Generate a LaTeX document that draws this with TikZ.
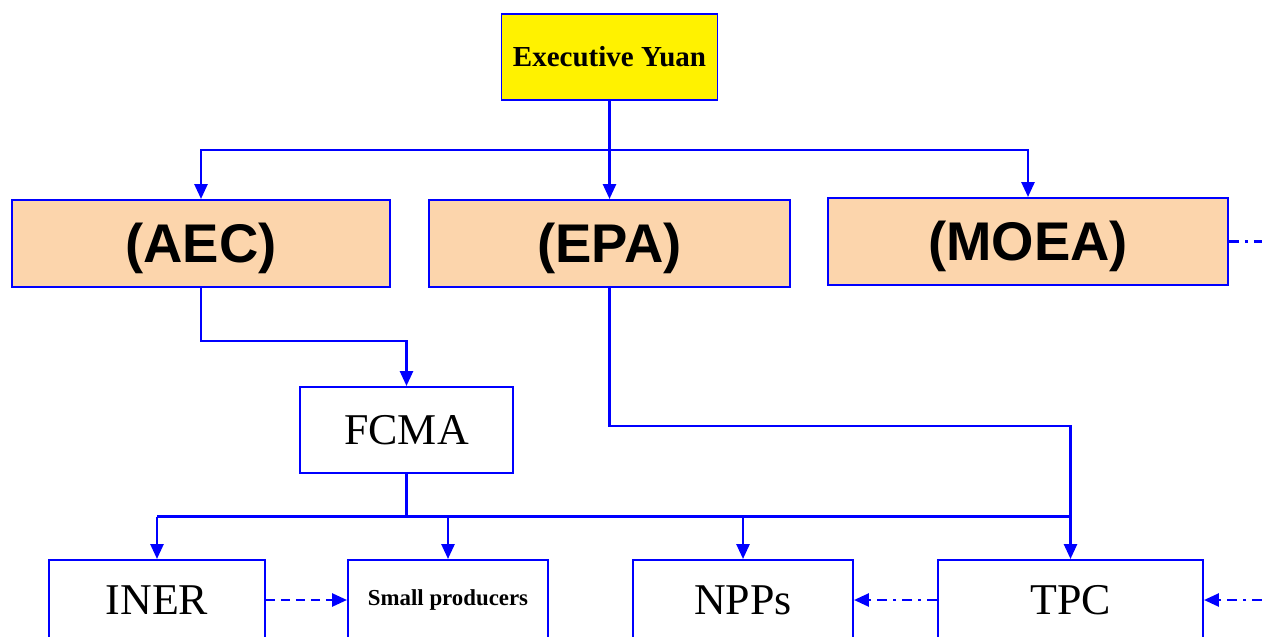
\documentclass[tikz,border=0pt]{standalone}
\usepackage{fontspec}
\setmainfont{Liberation Serif}
\newfontfamily\agencyfont{Liberation Sans}
\usetikzlibrary{arrows.meta,positioning,calc}
\definecolor{peach}{RGB}{252,213,172}
\tikzset{
    top_block/.style={
        draw=blue,
        fill=yellow,
        line width=1.1pt,
        rectangle,
        minimum height=1.72cm,
        minimum width=4.32cm,
        font=\fontsize{16.5}{19}\selectfont\bfseries
    },
    agency/.style={
        draw=blue,
        fill=peach,
        line width=1.1pt,
        rectangle,
        minimum height=1.74cm,
        text height=0.98cm,
        text depth=0.2cm,
        font=\agencyfont\fontsize{31}{36}\selectfont\bfseries
    },
    unit/.style={
        draw=blue,
        fill=white,
        line width=1.1pt,
        rectangle,
        minimum height=1.72cm,
        font=\fontsize{25}{30}\selectfont
    },
    link/.style={
        draw=blue,
        line width=1.5pt,
        -{Triangle[length=0.3cm,width=0.26cm]}
    },
    bus/.style={
        draw=blue,
        line width=1.5pt
    },
    dashline/.style={
        dash pattern=on 0.18cm off 0.12cm
    },
    dashdot/.style={
        dash pattern=on 0.2cm off 0.12cm on 0.06cm off 0.12cm
    },
}
\begin{document}
\begin{tikzpicture}
    \useasboundingbox (0,0) rectangle (25.24,-12.74);
    % blocks
    \node[top_block] (exec) at (12.19,-1.14) {Executive Yuan};
    \node[agency, minimum width=7.56cm] (aec) at (4.02,-4.87) {(AEC)};
    \node[agency, minimum width=7.22cm] (epa) at (12.19,-4.87) {(EPA)};
    \node[agency, minimum width=8cm] (moea) at (20.56,-4.83) {(MOEA)};
    \node[unit, minimum width=4.26cm] (fcma) at (8.13,-8.6) {FCMA};
    \node[unit, minimum width=4.32cm, minimum height=1.6cm] (iner) at (3.14,-12.0) {INER};
    \node[unit, minimum width=4cm, minimum height=1.6cm, font=\fontsize{13}{16}\selectfont\bfseries] (small) at (8.96,-12.0) {Small producers};
    \node[unit, minimum width=4.4cm, minimum height=1.6cm] (npps) at (14.86,-12.0) {NPPs};
    \node[unit, minimum width=5.3cm, minimum height=1.6cm] (tpc) at (21.41,-12.0) {TPC};
    % bus coordinates
    \coordinate (topbus) at (12.19,-3.0);
    \coordinate (lowbus) at (8.13,-10.33);
    \coordinate (rightout) at (25.24,-4.83);
    \coordinate (rightin) at (25.24,-12.0);

    % lines
    \draw[bus] (exec.south) -- (topbus);
    \draw[link] (topbus) -| (aec.north);
    \draw[link] (topbus) -| (moea.north);
    \draw[link] (topbus) -- (epa.north);
    \draw[link] (aec.south) -- ++(0,-1.06) -| (fcma.north);
    \draw[link] (epa.south) -- ++(0,-2.76) -| (tpc.north);
    \draw[bus] (fcma.south) -- (lowbus);
    \draw[bus] (lowbus -| iner.north) -- (lowbus -| tpc.north);
    \draw[link] (lowbus -| iner.north) -- (iner.north);
    \draw[link] (lowbus -| small.north) -- (small.north);
    \draw[link] (lowbus -| npps.north) -- (npps.north);
    \draw[link, dashline] (iner.east) -- (small.west);
    \draw[link, dashdot] (tpc.west) -- (npps.east);
    \draw[link, dashdot] (rightin) -- (tpc.east);
    \draw[bus, dashdot] (moea.east) -- (rightout);
\end{tikzpicture}
\end{document}
